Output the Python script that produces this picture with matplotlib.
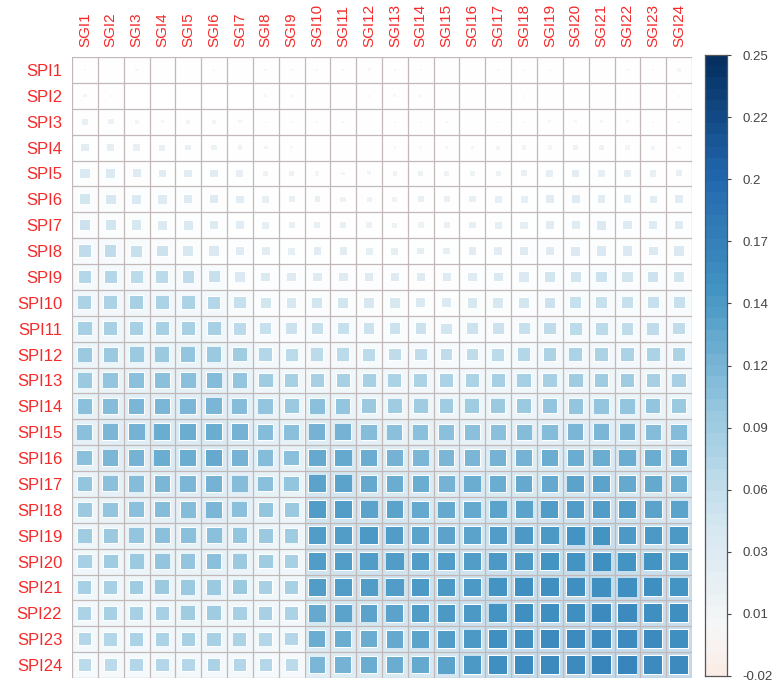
import numpy as np
import matplotlib
matplotlib.use('Agg')
import matplotlib.pyplot as plt
from matplotlib.colors import ListedColormap, Normalize
from matplotlib.patches import Rectangle

rows = ['SPI%d' % i for i in range(1, 25)]
cols = ['SGI%d' % i for i in range(1, 25)]

# values, one list per row (SPI1 .. SPI24), columns SGI1 .. SGI24
spi1 = [0.002, 0.001, -0.003, 0.001, 0.001, 0.001, -0.003, 0.003, -0.002, -0.002, 0.002, -0.004, -0.003, 0.002, -0.001, 0.001, -0.002, 0.001, 0.001, 0.001, 0.001, -0.003, 0.002, -0.005]
spi2 = [0.005, 0.002, 0.0, 0.0, 0.0, 0.0, 0.0, 0.004, 0.003, 0.001, 0.001, 0.001, 0.004, 0.003, 0.001, 0.001, 0.001, 0.001, 0.002, 0.001, 0.001, 0.001, 0.001, 0.001]
spi3 = [0.015, 0.014, 0.008, 0.006, 0.007, 0.007, 0.005, 0.002, 0.002, 0.002, 0.002, 0.001, 0.002, 0.002, 0.002, 0.002, 0.002, 0.002, 0.004, 0.003, 0.005, 0.003, 0.002, 0.002]
spi4 = [0.025, 0.022, 0.018, 0.016, 0.015, 0.013, 0.010, 0.006, 0.003, 0.001, 0.001, 0.001, 0.003, 0.003, 0.004, 0.005, 0.007, 0.008, 0.009, 0.010, 0.011, 0.009, 0.007, 0.006]
spi5 = [0.040, 0.035, 0.030, 0.028, 0.028, 0.027, 0.022, 0.012, 0.010, 0.008, 0.006, 0.007, 0.010, 0.010, 0.010, 0.012, 0.013, 0.016, 0.022, 0.025, 0.024, 0.022, 0.018, 0.016]
spi6 = [0.045, 0.042, 0.035, 0.033, 0.032, 0.030, 0.025, 0.020, 0.016, 0.015, 0.014, 0.012, 0.012, 0.015, 0.017, 0.018, 0.020, 0.022, 0.027, 0.030, 0.028, 0.028, 0.025, 0.028]
spi7 = [0.052, 0.048, 0.042, 0.040, 0.037, 0.034, 0.027, 0.022, 0.016, 0.016, 0.016, 0.014, 0.012, 0.014, 0.017, 0.020, 0.022, 0.024, 0.028, 0.033, 0.035, 0.033, 0.031, 0.031]
spi8 = [0.063, 0.061, 0.056, 0.054, 0.044, 0.040, 0.031, 0.027, 0.023, 0.025, 0.025, 0.023, 0.023, 0.021, 0.021, 0.025, 0.028, 0.031, 0.034, 0.038, 0.040, 0.039, 0.036, 0.039]
spi9 = [0.070, 0.070, 0.068, 0.066, 0.060, 0.055, 0.040, 0.035, 0.034, 0.034, 0.034, 0.032, 0.032, 0.030, 0.030, 0.032, 0.035, 0.040, 0.045, 0.048, 0.050, 0.048, 0.050, 0.046]
spi10 = [0.078, 0.078, 0.080, 0.078, 0.076, 0.072, 0.058, 0.046, 0.044, 0.046, 0.048, 0.044, 0.042, 0.040, 0.040, 0.041, 0.042, 0.048, 0.052, 0.056, 0.058, 0.056, 0.056, 0.056]
spi11 = [0.084, 0.084, 0.084, 0.084, 0.080, 0.080, 0.068, 0.055, 0.052, 0.055, 0.055, 0.052, 0.050, 0.050, 0.048, 0.050, 0.052, 0.057, 0.062, 0.065, 0.067, 0.063, 0.063, 0.062]
spi12 = [0.090, 0.090, 0.092, 0.092, 0.095, 0.092, 0.085, 0.074, 0.066, 0.068, 0.068, 0.066, 0.064, 0.064, 0.063, 0.064, 0.066, 0.070, 0.075, 0.077, 0.079, 0.077, 0.077, 0.075]
spi13 = [0.092, 0.098, 0.100, 0.100, 0.103, 0.106, 0.095, 0.088, 0.080, 0.082, 0.082, 0.080, 0.078, 0.078, 0.076, 0.078, 0.080, 0.082, 0.084, 0.085, 0.086, 0.085, 0.084, 0.082]
spi14 = [0.100, 0.106, 0.110, 0.112, 0.112, 0.114, 0.106, 0.098, 0.092, 0.100, 0.097, 0.093, 0.089, 0.089, 0.087, 0.089, 0.091, 0.093, 0.095, 0.096, 0.097, 0.096, 0.095, 0.093]
spi15 = [0.104, 0.110, 0.116, 0.120, 0.122, 0.124, 0.116, 0.108, 0.102, 0.118, 0.115, 0.107, 0.102, 0.102, 0.100, 0.102, 0.104, 0.106, 0.108, 0.110, 0.112, 0.110, 0.108, 0.107]
spi16 = [0.102, 0.110, 0.115, 0.120, 0.122, 0.125, 0.115, 0.108, 0.102, 0.128, 0.128, 0.120, 0.117, 0.114, 0.112, 0.114, 0.117, 0.118, 0.120, 0.122, 0.124, 0.122, 0.120, 0.120]
spi17 = [0.098, 0.104, 0.108, 0.112, 0.114, 0.116, 0.108, 0.102, 0.096, 0.132, 0.132, 0.126, 0.124, 0.121, 0.118, 0.121, 0.124, 0.126, 0.128, 0.130, 0.131, 0.128, 0.126, 0.124]
spi18 = [0.092, 0.098, 0.103, 0.107, 0.109, 0.111, 0.103, 0.097, 0.091, 0.135, 0.137, 0.133, 0.130, 0.127, 0.125, 0.127, 0.130, 0.133, 0.135, 0.137, 0.139, 0.135, 0.133, 0.133]
spi19 = [0.088, 0.093, 0.097, 0.100, 0.102, 0.104, 0.098, 0.092, 0.087, 0.138, 0.138, 0.140, 0.135, 0.133, 0.131, 0.133, 0.138, 0.141, 0.143, 0.145, 0.147, 0.143, 0.141, 0.141]
spi20 = [0.084, 0.088, 0.092, 0.096, 0.097, 0.100, 0.094, 0.088, 0.084, 0.137, 0.138, 0.137, 0.137, 0.136, 0.135, 0.137, 0.142, 0.144, 0.147, 0.148, 0.150, 0.148, 0.146, 0.144]
spi21 = [0.080, 0.084, 0.087, 0.090, 0.092, 0.094, 0.090, 0.084, 0.080, 0.135, 0.136, 0.135, 0.138, 0.140, 0.142, 0.144, 0.148, 0.150, 0.151, 0.151, 0.153, 0.153, 0.151, 0.149]
spi22 = [0.077, 0.080, 0.082, 0.084, 0.086, 0.088, 0.084, 0.080, 0.076, 0.128, 0.130, 0.130, 0.134, 0.137, 0.140, 0.143, 0.149, 0.151, 0.153, 0.153, 0.155, 0.155, 0.153, 0.151]
spi23 = [0.072, 0.074, 0.076, 0.078, 0.080, 0.082, 0.078, 0.074, 0.072, 0.120, 0.122, 0.124, 0.128, 0.133, 0.138, 0.142, 0.150, 0.153, 0.156, 0.156, 0.158, 0.158, 0.156, 0.154]
spi24 = [0.067, 0.068, 0.070, 0.072, 0.074, 0.076, 0.074, 0.070, 0.068, 0.110, 0.118, 0.120, 0.124, 0.129, 0.134, 0.140, 0.152, 0.155, 0.158, 0.158, 0.160, 0.160, 0.158, 0.156]

mat = np.array([spi1, spi2, spi3, spi4, spi5, spi6, spi7, spi8, spi9, spi10, spi11, spi12,
                spi13, spi14, spi15, spi16, spi17, spi18, spi19, spi20, spi21, spi22, spi23, spi24])

cb_ticks = [-0.02, 0.007, 0.034, 0.061, 0.088, 0.115, 0.142, 0.169, 0.196, 0.223, 0.25]
cb_labels = ['-0.02', '0.01', '0.03', '0.06', '0.09', '0.12', '0.14', '0.17', '0.2', '0.22', '0.25']
VLIM = 0.25

cmap = ListedColormap(plt.get_cmap('RdBu')(np.linspace(0, 1, 100)))
norm = Normalize(-VLIM, VLIM)

W, H = 776, 683
fig = plt.figure(figsize=(W / 100, H / 100), dpi=100)
fig.patch.set_facecolor('white')

# main grid axes
x0, x1, y0, y1 = 72, 692, 57, 678
ax = fig.add_axes([x0 / W, 1 - y1 / H, (x1 - x0) / W, (y1 - y0) / H])
n_r, n_c = mat.shape
ax.set_xlim(0.5, n_c + 0.5)
ax.set_ylim(n_r + 0.5, 0.5)

for i in range(n_r):
    for j in range(n_c):
        v = mat[i, j]
        col = cmap(norm(v))
        s = 0.9 * np.sqrt(abs(v) / VLIM)
        # faint tint of the cell behind the square
        ax.add_patch(Rectangle((j + 0.5, i + 0.5), 1, 1, facecolor=col,
                               alpha=min(0.3, 2.0 * abs(v)), lw=0, zorder=1))
        ax.add_patch(Rectangle((j + 1 - s / 2 - 0.03, i + 1 - s / 2 - 0.03), s + 0.06, s + 0.06,
                               facecolor='white', lw=0, zorder=2))
        ax.add_patch(Rectangle((j + 1 - s / 2, i + 1 - s / 2), s, s,
                               facecolor=col, lw=0, zorder=3))

for k in range(n_c + 1):
    ax.axvline(k + 0.5, color='#c2b8b8', lw=0.9, zorder=4)
for k in range(n_r + 1):
    ax.axhline(k + 0.5, color='#c2b8b8', lw=0.9, zorder=4)

ax.set_xticks(np.arange(1, n_c + 1))
ax.set_xticklabels(cols, rotation=90, color='#f52a2a', fontsize=11, family='Liberation Sans')
ax.set_yticks(np.arange(1, n_r + 1))
ax.set_yticklabels(rows, color='#f52a2a', fontsize=12, family='Liberation Sans')
ax.xaxis.tick_top()
ax.tick_params(length=0, pad=7)
for sp in ax.spines.values():
    sp.set_visible(False)

# colour legend
cx0, cx1, cy0, cy1 = 705, 727, 55, 676
cax = fig.add_axes([cx0 / W, 1 - cy1 / H, (cx1 - cx0) / W, (cy1 - cy0) / H])
lev = np.linspace(cb_ticks[0], cb_ticks[-1], 400)
cax.pcolormesh([0, 1], lev, np.c_[lev[:-1]], cmap=cmap, norm=norm, shading='flat')
cax.set_xlim(0, 1)
cax.set_ylim(cb_ticks[0], cb_ticks[-1])
cax.set_xticks([])
cax.yaxis.tick_right()
cax.set_yticks(cb_ticks)
cax.set_yticklabels(cb_labels, fontsize=9.5, color='#444444', family='Liberation Sans')
cax.tick_params(axis='y', length=3, width=0.8, pad=8, color='#444444')
for sp in cax.spines.values():
    sp.set_color('#555555')
    sp.set_linewidth(0.9)

fig.savefig('out.png', dpi=100, facecolor='white')
